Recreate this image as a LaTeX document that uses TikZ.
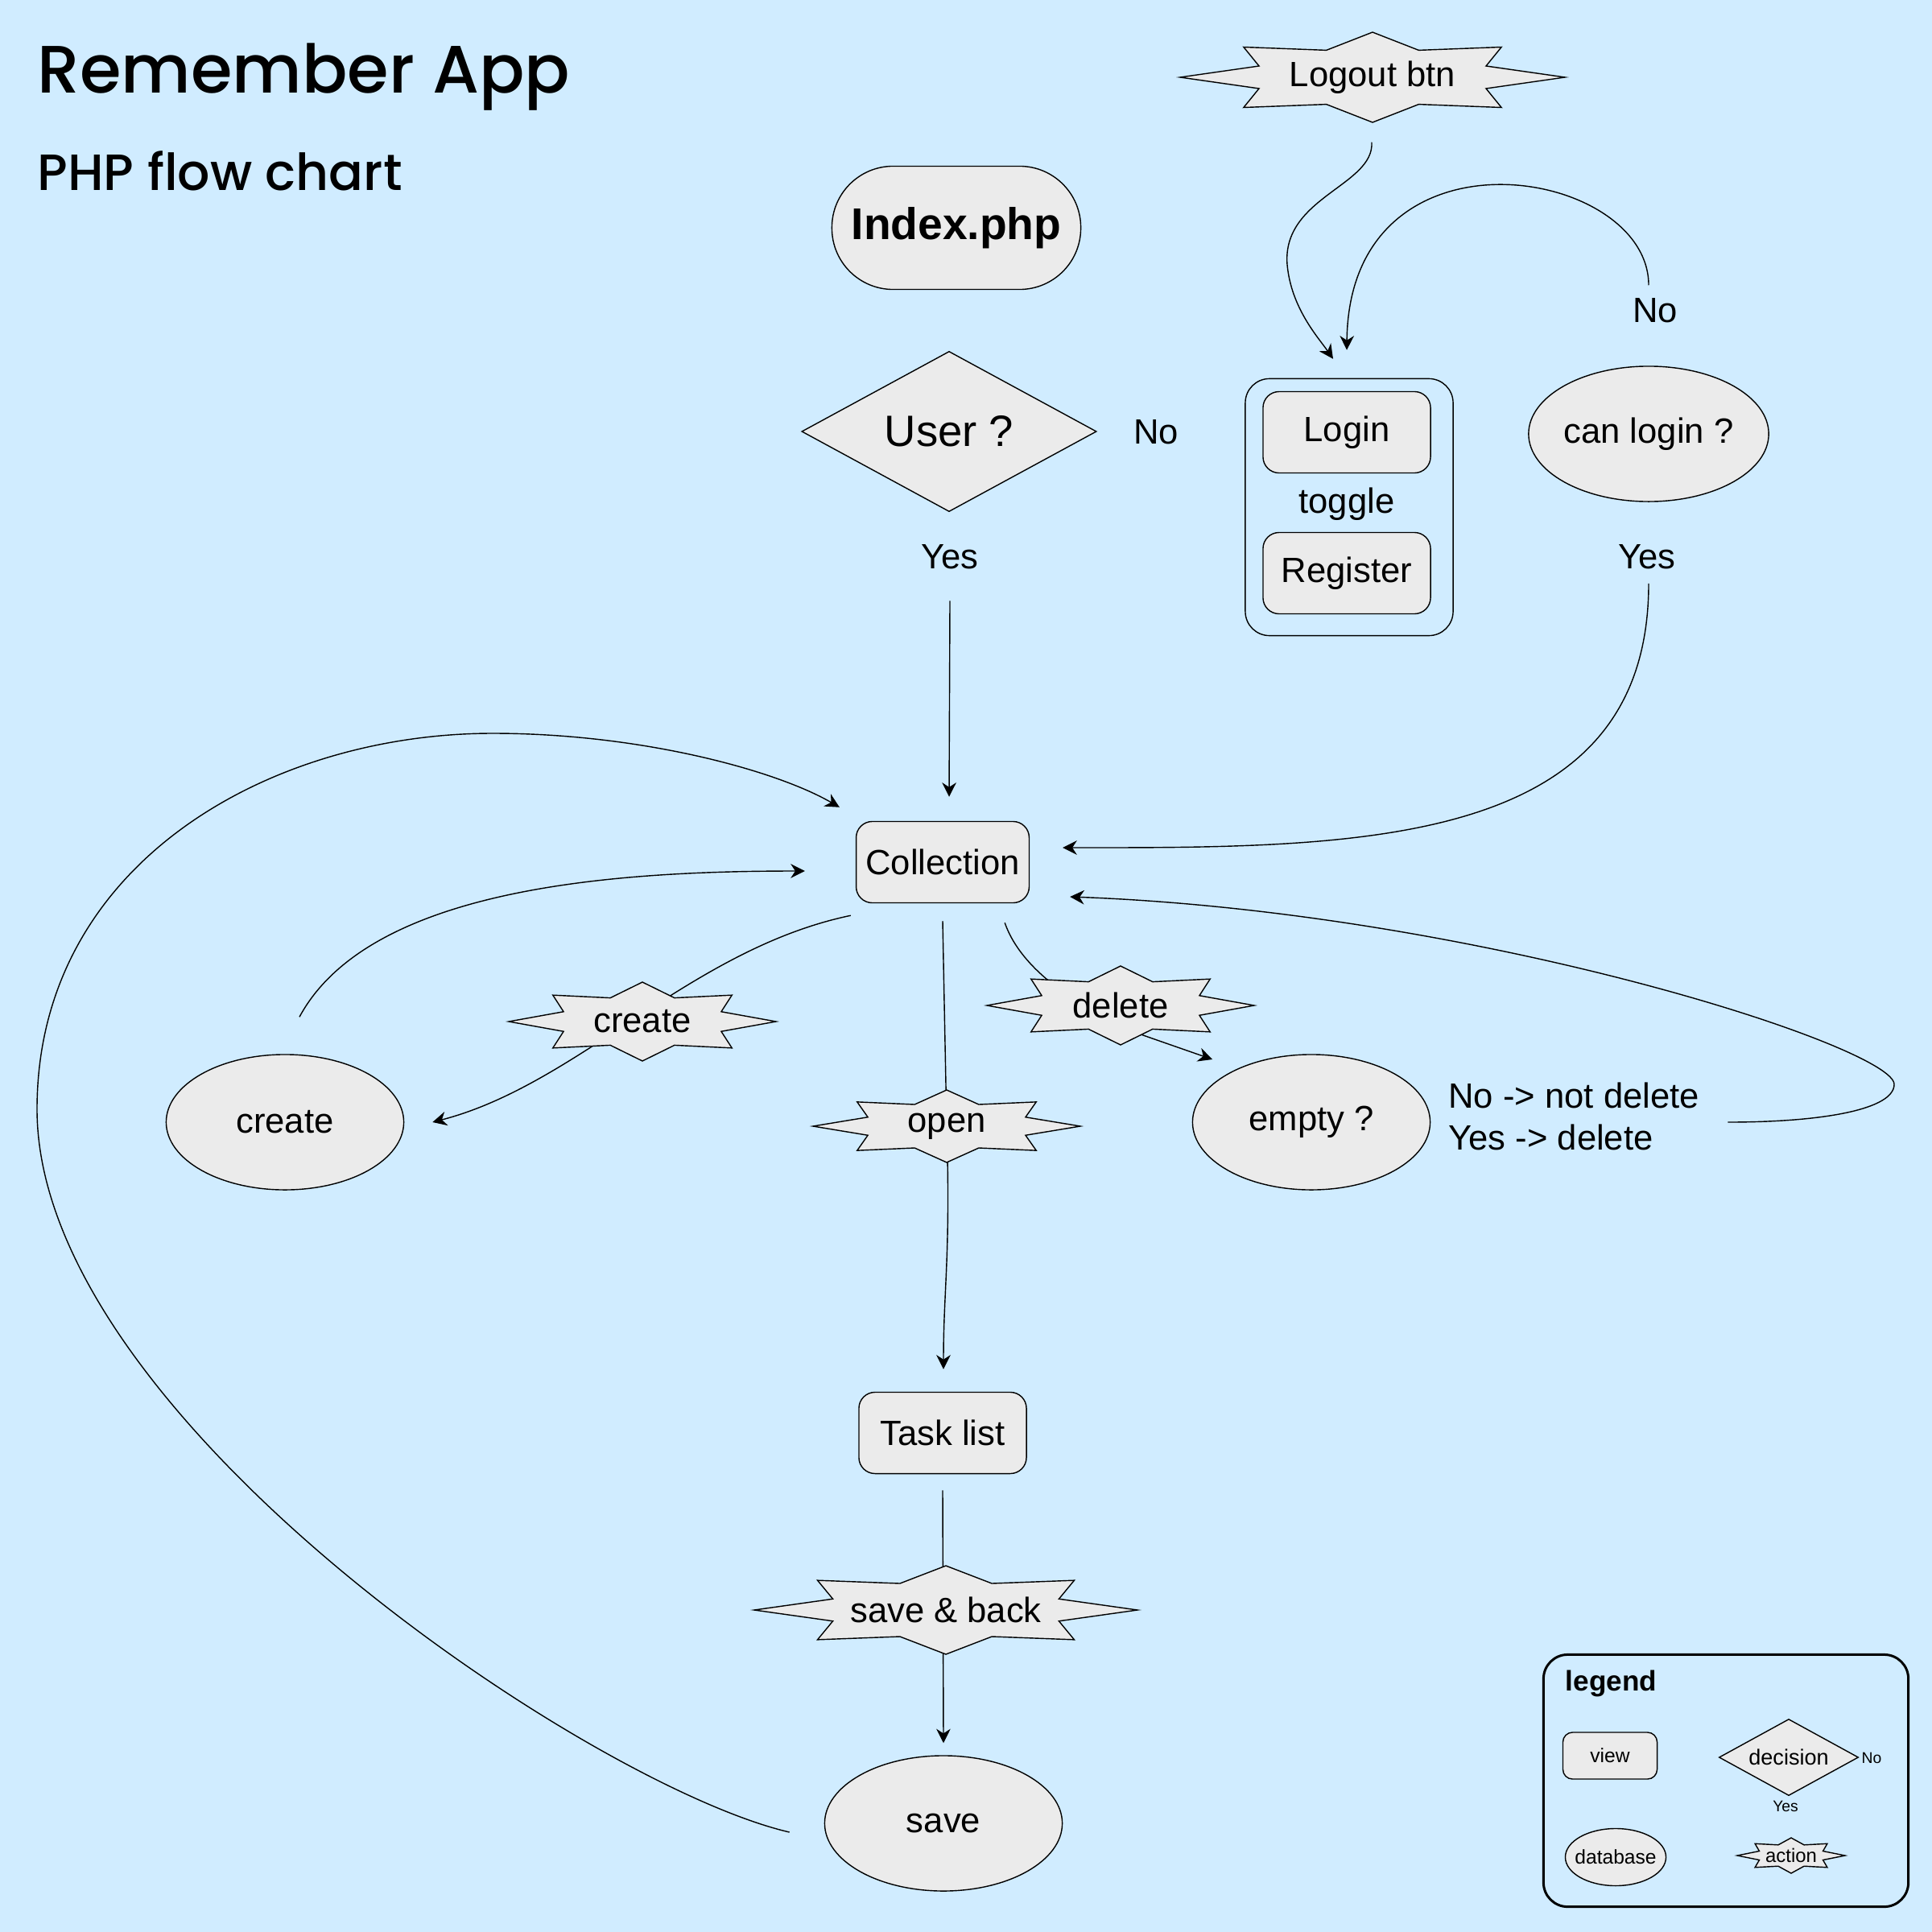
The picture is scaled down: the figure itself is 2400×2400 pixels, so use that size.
\documentclass[tikz,border=0pt]{standalone}
\usepackage{fontspec}
\setmainfont{Liberation Sans}
\newfontfamily\titlefont{Poppins Medium}
\usetikzlibrary{shapes.geometric,arrows.meta,calc}

\definecolor{pagebg}{HTML}{D0ECFF}
\definecolor{shapegray}{HTML}{EBEBEB}

\pgfdeclarelayer{bg}
\pgfdeclarelayer{edges}
\pgfsetlayers{bg,edges,main}

\newcommand\fsz[1]{\fontsize{#1}{15}\selectfont}

\tikzset{
  shapebox/.style={draw, fill=shapegray, line width=0.4pt},
  view/.style={shapebox, rounded corners=0.2cm, minimum width=2.08cm, minimum height=1.01cm, font=\fsz{12.4}},
  database/.style={shapebox, ellipse, inner sep=0pt, minimum width=2.95cm, minimum height=1.68cm, font=\fsz{12.4}},
  decision/.style={shapebox, diamond, inner sep=0pt, minimum width=3.66cm, minimum height=1.99cm, font=\fsz{15.5}},
  burst/.style={shapebox},
  note/.style={font=\fsz{12.4}},
  link/.style={line width=0.4pt, -{Stealth[length=5pt,width=5pt,inset=1.6pt]}},
}

\begin{document}
\begin{tikzpicture}[x=0.01cm, y=-0.01cm]
  \begin{pgfonlayer}{bg}
    \fill[pagebg] (0,0) rectangle (2400,2400);
  \end{pgfonlayer}
  \useasboundingbox (0,0) rectangle (2400,2400);

  % titre
  \node[anchor=base west, inner sep=0, font=\titlefont\fsz{23.7}] (title) at (46,116) {Remember App};
  \node[anchor=base west, inner sep=0, font=\titlefont\fsz{18}] (subtitle) at (46,237) {PHP flow chart};

  % les actions
  \foreach \n/\x/\y/\w/\h/\fs/\lbl in {
      logout/1705/96/239/56/12.4/Logout btn,
      mkcoll/798/1269/166/49/12.4/create,
      opencoll/1176/1399/166/45/12.4/open,
      delcoll/1392/1249/166/49/12.4/delete,
      saveback/1175/2000/238/55/12.4/save \& back,
      legaction/2225/2305/67/22/6.8/action} {
    \draw[burst, shift={(\x,\y)}, xscale=\w, yscale=\h]
      (1,0) -- (.59,.25) -- (.67,.67) -- (.24,.6) -- (0,1) -- (-.24,.6) -- (-.67,.67) -- (-.59,.25)
      -- (-1,0) -- (-.59,-.25) -- (-.67,-.67) -- (-.24,-.6) -- (0,-1) -- (.24,-.6) -- (.67,-.67) -- (.59,-.25) -- cycle;
    \node[inner sep=0, minimum width=\w*0.02cm, minimum height=\h*0.02cm, font=\fsz{\fs}] (\n) at (\x,\y) {\lbl};
  }

  % les pages
  \node[shapebox, rounded corners=0.76cm, minimum width=3.09cm, minimum height=1.53cm, font=\fsz{15.7}\bfseries] (index) at (1188,283) {Index.php};
  \node[decision] (user) at (1179,536) {User ?};
  \node[note] (userno) at (1436,537) {No};
  \node[note] (useryes) at (1180,692) {Yes};
  \node[draw, line width=0.4pt, rounded corners=0.3cm, minimum width=2.58cm, minimum height=3.19cm] (auth) at (1676,630) {};
  \node[view] (login) at (1673,537) {Login};
  \node[note] (toggle) at (1673,626) {toggle};
  \node[view] (register) at (1673,712) {Register};
  \node[database] (canlogin) at (2048,539) {can login ?};
  \node[note] (canno) at (2056,386) {No};
  \node[note] (canyes) at (2046,692) {Yes};
  \node[view] (coll) at (1171,1071) {Collection};
  \node[database] (create) at (354,1394) {create};
  \node[database] (empty) at (1629,1394) {empty ?};
  \node[note, anchor=west, align=left] (emptyres) at (1787,1387) {No -> not delete\\Yes -> delete};
  \node[view] (tasks) at (1171,1780) {Task list};
  \node[database] (save) at (1172,2265) {save};

  % la légende
  \node[draw, line width=0.85pt, rounded corners=0.3cm, minimum width=4.53cm, minimum height=3.13cm] (legend) at (2144,2212) {};
  \node[anchor=west, inner sep=0, font=\fsz{10}\bfseries] (legtitle) at (1944,2091) {legend};
  \node[view, rounded corners=0.12cm, minimum width=1.17cm, minimum height=0.58cm, font=\fsz{7}] (legview) at (2000,2181) {view};
  \node[decision, aspect=2, minimum width=1.73cm, minimum height=0.95cm, font=\fsz{7.7}] (legdec) at (2222,2183) {decision};
  \node[note, font=\fsz{5.5}] (legno) at (2325,2184) {No};
  \node[note, font=\fsz{5.5}] (legyes) at (2218,2244) {Yes};
  \node[database, minimum width=1.25cm, minimum height=0.71cm, font=\fsz{7}] (legdb) at (2007,2307) {\makebox[0pt]{database}};

  % les liens
  \begin{pgfonlayer}{edges}
    \draw[link] ($(logout.south)+(-1,24)$) .. controls +(3,54) and +(-7,-84) .. (1599,329)
      .. controls +(5,54) and +(-18,-26) .. ($(login.north)+(-17,-40)$);
    \draw[link] ($(canlogin.north)+(0,-100)$) .. controls (2048,207) and (1676,145) .. ($(login.north)+(0,-51)$);
    \draw[link] ($(user.south)+(1,110)$) -- ($(coll.north)+(8,-30)$);
    \draw[link] ($(canlogin.south)+(0,101)$) .. controls (2048,1056) and (1684,1053) .. ($(coll.east)+(41,-18)$);
    \draw[link] ($(save.west)+(-43,11)$) .. controls (735,2219) and (46,1760) .. (46,1378)
      .. controls (46,1071) and (337,911) .. (612,911)
      .. controls (796,911) and (964,957) .. ($(coll.north west)+(-20,-17)$);
    \draw[link] ($(create.north)+(18,-46)$) .. controls (459,1102) and (765,1082) .. ($(coll.west)+(-63,11)$);
    \draw[link] ($(coll.south west)+(-6,15)$) .. controls (857,1179) and (719,1347) .. ($(create.east)+(35,0)$);
    \draw[link] ($(coll.south)+(0,22)$) -- (opencoll.center)
      .. controls (1181,1560) and (1172,1600) .. ($(tasks.north)+(1,-28)$);
    \draw[link] ($(coll.south east)+(-31,24)$) .. controls (1270,1209) and (1347,1255) .. (1420,1286)
      -- ($(empty.center)+(-123,-78)$);
    \draw[link] ($(emptyres.east)+(23,7)$) .. controls (2265,1394) and (2353,1378) .. (2353,1347)
      .. controls (2353,1301) and (1837,1133) .. ($(coll.east)+(50,43)$);
    \draw[link] ($(tasks.south)+(0,20)$) -- ($(save.north)+(0,-15)$);
  \end{pgfonlayer}
\end{tikzpicture}
\end{document}
